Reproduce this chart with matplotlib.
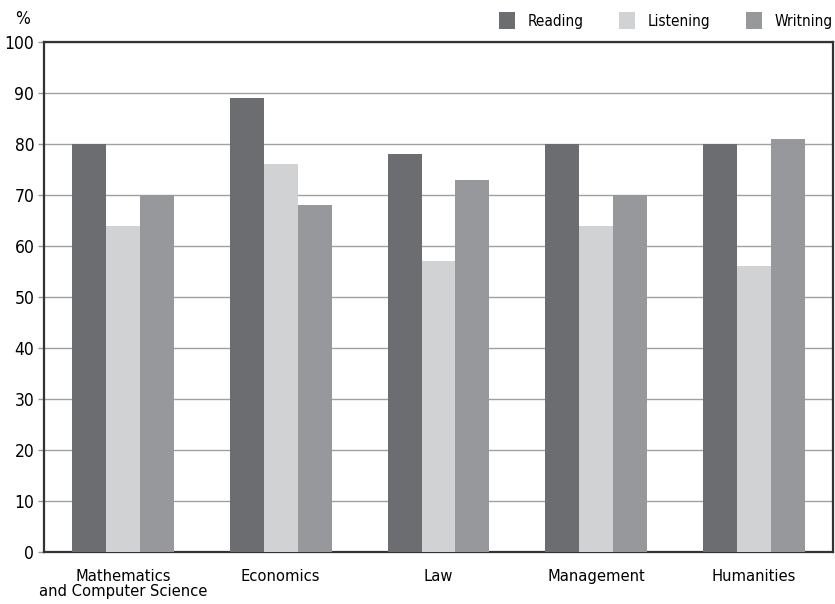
import numpy as np
import matplotlib.pyplot as plt
from matplotlib.patches import Patch

plt.rcParams['font.family'] = ['DejaVu Sans']
plt.rcParams['font.stretch'] = 'condensed'

facultades = ["Mathematics\nand Computer Science", "Economics", "Law", "Management", "Humanities"]
reading = [80, 89, 78, 80, 80]
listening = [64, 76, 57, 64, 56]
writing = [70, 68, 73, 70, 81]

series = [("Reading", reading, "#6c6d71"),
          ("Listening", listening, "#d1d2d4"),
          ("Writning", writing, "#97989b")]

fig = plt.figure(figsize=(8.35, 6.04), dpi=100)
ax = fig.add_axes([0.0527, 0.0861, 0.9449, 0.8444])

x = np.arange(len(facultades))
ancho = 0.215
for i, (nombre, valores, color) in enumerate(series):
    ax.bar(x + (i - 1) * ancho, valores, ancho, color=color, zorder=3)

ax.set_xlim(-0.5, len(facultades) - 0.5)
ax.set_ylim(0, 100)
ax.set_yticks(range(0, 101, 10))
ax.set_xticks(x)
ax.set_xticklabels(facultades, fontsize=11.8, linespacing=1.05)
ax.tick_params(axis='x', length=0, pad=12)
ax.tick_params(axis='y', length=4, width=1, color="#999999", labelsize=12.5, pad=3)
ax.yaxis.grid(True, color="#a0a0a0", linewidth=1, zorder=0)

for lado in ax.spines.values():
    lado.set_color("#333333")
    lado.set_linewidth(1.6)

fig.text(0.027, 0.968, "%", fontsize=12.5, ha="center", va="center")

manijas = [Patch(facecolor=c, edgecolor="none", label=n) for n, _, c in series]
fig.legend(handles=manijas, loc="upper right", bbox_to_anchor=(1.006, 0.992), ncol=3,
           frameon=False, fontsize=11, handlelength=1.05, handleheight=1.25,
           columnspacing=2.35, handletextpad=0.8, borderaxespad=0.1)

fig.savefig("out.png", dpi=100)
